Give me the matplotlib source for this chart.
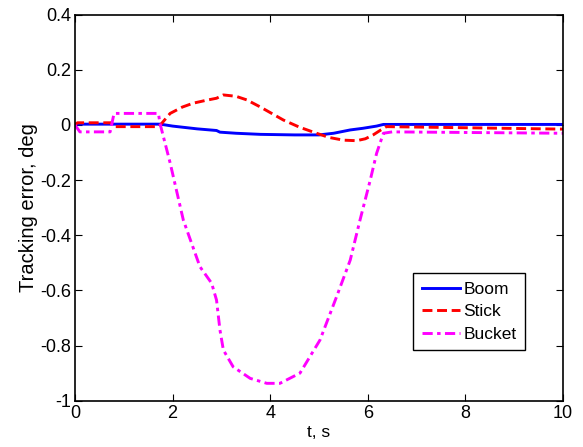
import matplotlib
matplotlib.use("Agg")
import matplotlib.pyplot as plt

plt.rcParams['font.family'] = ['Liberation Sans', 'DejaVu Sans']

# curves (time in s, error in deg)
boom_t = [0, 1.75, 2.0, 2.5, 2.9, 2.97, 3.3, 3.8, 4.5, 5.0, 5.3, 5.64, 5.9, 6.18, 6.32, 10]
boom = [0.003, 0.003, -0.004, -0.014, -0.02, -0.026, -0.03, -0.034, -0.036, -0.036, -0.03,
        -0.018, -0.012, -0.004, 0.002, 0.002]

stick_t = [0, 0.05, 0.75, 0.8, 1.72, 1.95, 2.2, 2.42, 2.7, 2.9, 3.04, 3.3, 3.52, 3.79,
           4.27, 4.6, 4.95, 5.2, 5.5, 5.77, 5.95, 6.11, 6.25, 6.38, 8, 10]
stick = [0, 0.008, 0.008, -0.006, -0.006, 0.042, 0.065, 0.079, 0.09, 0.097, 0.109, 0.104,
         0.091, 0.066, 0.018, -0.008, -0.03, -0.045, -0.055, -0.057, -0.05, -0.036, -0.02,
         -0.006, -0.01, -0.015]

bucket_t = [0, 0.1, 0.72, 0.8, 1.71, 1.74, 1.95, 2.22, 2.56, 2.8, 2.9, 2.97, 3.04, 3.24,
            3.59, 3.93, 4.2, 4.61, 5.02, 5.36, 5.64, 5.84, 6.05, 6.18, 6.32, 6.5, 10]
bucket = [0, -0.025, -0.025, 0.042, 0.042, 0.007, -0.138, -0.345, -0.514, -0.574, -0.635,
          -0.743, -0.816, -0.877, -0.919, -0.937, -0.937, -0.90, -0.78, -0.623, -0.49,
          -0.345, -0.2, -0.103, -0.03, -0.025, -0.03]

fig = plt.figure(figsize=(5.83, 4.47), dpi=100)
ax = fig.add_axes([75 / 583, 1 - 400.7 / 447, 488 / 583, 386 / 447])

ax.plot(boom_t, boom, color='#0000ff', lw=2.1, label='Boom')
ax.plot(stick_t, stick, color='#ff0000', lw=2.1, ls=(0, (3.4, 1.6)), label='Stick')
ax.plot(bucket_t, bucket, color='#ff00ff', lw=2.1, ls=(0, (3.5, 1.5, 1.2, 1.5)), label='Bucket')

ax.set_xlim(0, 10)
ax.set_ylim(-1, 0.4)
ax.set_xticks([0, 2, 4, 6, 8, 10])
ax.set_yticks([-1, -0.8, -0.6, -0.4, -0.2, 0, 0.2, 0.4])
ax.set_yticklabels(['-1', '-0.8', '-0.6', '-0.4', '-0.2', '0', '0.2', '0.4'])
ax.tick_params(direction='in', top=True, right=True, length=5, labelsize=13, pad=3)
for s in ax.spines.values():
    s.set_linewidth(1.2)

ax.set_xlabel('t, s', fontsize=12.5, labelpad=2)
ax.set_ylabel('Tracking error, deg', fontsize=14.5, labelpad=1)

leg = ax.legend(loc='upper left', bbox_to_anchor=(0.693, 0.331), fontsize=12.5,
                fancybox=False, edgecolor='black', framealpha=1, borderpad=0.5,
                handlelength=2.2, handletextpad=0.2, labelspacing=0.42, borderaxespad=0)
leg.get_frame().set_linewidth(1.0)

fig.savefig('out.png', dpi=100)
